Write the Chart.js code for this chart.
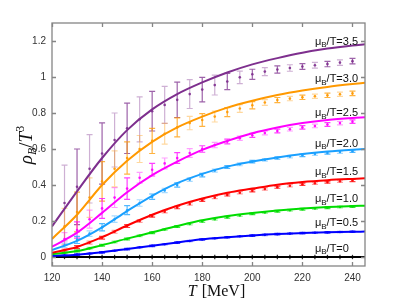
<!DOCTYPE html>
<html><head><meta charset="utf-8">
<script src="https://cdn.jsdelivr.net/npm/chart.js@4.4.1/dist/chart.umd.min.js"></script>
<style>html,body{margin:0;padding:0;background:#fff;}canvas{display:block;}</style>
</head><body>
<canvas id="c" width="403" height="303"></canvas>
<script>
// ---- data ----
const T_LINE = [120,130,140,150,160,170,180,190,200,210,220,230,240,245];
const T_DATA = [125,130,135,140,145,150,155,160,165,170,175,180,185,190,195,200,205,210,215,220,225,230,235,240];
const X_TICKS = [120,140,160,180,200,220,240];
const Y_TICKS = [0,0.2,0.4,0.6,0.8,1,1.2];
const Y_TICK_LABELS = ['0','0.2','0.4','0.6','0.8','1','1.2'];
const MU_LABELS = ['3.5','3.0','2.5','2.0','1.5','1.0','0.5','0'];

const line35 = [0.17,0.365,0.55,0.705,0.82,0.905,0.97,1.025,1.07,1.105,1.135,1.158,1.175,1.182];
const line30 = [0.10,0.235,0.40,0.535,0.64,0.72,0.78,0.83,0.868,0.90,0.925,0.945,0.961,0.968];
const line25 = [0.057,0.135,0.245,0.36,0.455,0.53,0.595,0.645,0.688,0.72,0.744,0.761,0.772,0.776];
const line20 = [0.039,0.09,0.165,0.255,0.34,0.41,0.462,0.502,0.53,0.553,0.572,0.586,0.596,0.60];
const line15 = [0.024,0.056,0.11,0.175,0.235,0.285,0.325,0.357,0.38,0.402,0.417,0.427,0.434,0.437];
const line10 = [0.015,0.033,0.066,0.102,0.137,0.172,0.204,0.228,0.245,0.259,0.27,0.278,0.283,0.285];
const line05 = [0.006,0.013,0.027,0.045,0.063,0.081,0.099,0.11,0.12,0.128,0.133,0.137,0.14,0.141];
const line00 = [0,0,0,0,0,0,0,0,0,0,0,0,0,0];

const data35 = [0.30,0.39,0.49,0.575,0.65,0.715,0.765,0.81,0.845,0.873,0.905,0.93,0.955,0.975,0.998,1.015,1.03,1.042,1.05,1.058,1.065,1.072,1.08,1.088];
const err35  = [0.21,0.21,0.19,0.17,0.15,0.14,0.125,0.11,0.103,0.098,0.08,0.068,0.055,0.045,0.035,0.028,0.022,0.02,0.018,0.016,0.016,0.015,0.015,0.015];
const data30 = [0.17,0.25,0.33,0.42,0.49,0.55,0.60,0.645,0.685,0.72,0.744,0.761,0.78,0.805,0.825,0.843,0.858,0.872,0.88,0.887,0.893,0.898,0.904,0.909];
const err30  = [0.10,0.11,0.11,0.11,0.10,0.09,0.075,0.07,0.058,0.053,0.037,0.035,0.03,0.025,0.022,0.02,0.016,0.014,0.012,0.012,0.012,0.012,0.012,0.012];
const data25 = [0.10,0.15,0.21,0.27,0.33,0.38,0.44,0.485,0.52,0.55,0.578,0.60,0.622,0.642,0.66,0.676,0.689,0.70,0.71,0.72,0.728,0.736,0.744,0.752];
const err25  = [0.035,0.045,0.05,0.055,0.055,0.06,0.03,0.035,0.03,0.03,0.024,0.018,0.015,0.013,0.012,0.011,0.01,0.01,0.01,0.01,0.01,0.01,0.01,0.01];
const data20 = [0.065,0.095,0.13,0.165,0.21,0.26,0.30,0.335,0.37,0.40,0.43,0.455,0.48,0.50,0.515,0.53,0.54,0.55,0.558,0.565,0.572,0.578,0.583,0.588];
const err20  = [0.012,0.02,0.015,0.02,0.018,0.025,0.018,0.015,0.012,0.012,0.01,0.01,0.008,0.008,0.008,0.007,0.007,0.007,0.007,0.007,0.007,0.007,0.007,0.007];
const data15 = [0.038,0.055,0.08,0.107,0.14,0.172,0.20,0.228,0.252,0.275,0.295,0.315,0.33,0.345,0.357,0.368,0.378,0.388,0.396,0.404,0.41,0.416,0.421,0.425];
const err15  = [0.006,0.008,0.008,0.008,0.008,0.008,0.008,0.007,0.007,0.007,0.007,0.006,0.006,0.006,0.006,0.006,0.006,0.006,0.006,0.006,0.006,0.006,0.006,0.006];
const data10 = [0.023,0.033,0.048,0.065,0.083,0.10,0.118,0.135,0.153,0.169,0.184,0.198,0.21,0.221,0.231,0.24,0.247,0.254,0.26,0.265,0.27,0.274,0.278,0.281];
const err10  = [0.005,0.005,0.005,0.005,0.005,0.005,0.005,0.005,0.005,0.005,0.005,0.005,0.005,0.005,0.005,0.005,0.005,0.005,0.005,0.005,0.005,0.005,0.005,0.005];
const data05 = [0.009,0.013,0.019,0.026,0.035,0.044,0.054,0.062,0.071,0.08,0.089,0.097,0.104,0.11,0.115,0.119,0.123,0.127,0.13,0.133,0.135,0.137,0.139,0.14];
const err05  = [0.004,0.004,0.004,0.004,0.004,0.004,0.004,0.004,0.004,0.004,0.004,0.004,0.004,0.004,0.004,0.004,0.004,0.004,0.004,0.004,0.004,0.004,0.004,0.004];
const data00 = [0,0,0,0,0,0,0,0,0,0,0,0,0,0,0,0,0,0,0,0,0,0,0,0];
const err00  = [0.012,0.012,0.012,0.012,0.012,0.012,0.012,0.012,0.012,0.012,0.012,0.012,0.012,0.012,0.012,0.012,0.012,0.012,0.012,0.012,0.012,0.012,0.012,0.012];

// ---- styling ----
const COLORS = [[126,47,142],[255,153,0],[255,0,255],[26,160,255],[255,0,0],[0,221,0],[0,0,255],[0,0,0]];
const LINES = [line35,line30,line25,line20,line15,line10,line05,line00];
const DATAS = [data35,data30,data25,data20,data15,data10,data05,data00];
const ERRS  = [err35,err30,err25,err20,err15,err10,err05,err00];
const LABEL_OFFSETS = [2.5,3.7,4.3,5.5,6,6.4,8.4,8.3];
const rgba = (c,a) => `rgba(${c[0]},${c[1]},${c[2]},${a})`;

const datasets = [];
LINES.forEach((ln, i) => {
  datasets.push({
    type:'line', label:'line'+i,
    data: T_LINE.map((t,k)=>({x:t,y:ln[k]})),
    borderColor: rgba(COLORS[i],1), borderWidth: 2,
    pointRadius: 0, cubicInterpolationMode:'monotone', fill:false, order: 0
  });
});
DATAS.forEach((d, i) => {
  datasets.push({
    type:'line', label:'pts'+i, showLine:false,
    data: T_DATA.map((t,k)=>({x:t,y:d[k]})),
    errors: ERRS[i], colorIdx: i,
    pointRadius: 1.3, pointBorderWidth:0,
    pointBackgroundColor: rgba(COLORS[i],0.9), order: 1
  });
});

const errorBarPlugin = {
  id:'errbars',
  beforeDatasetsDraw(chart){
    const {ctx, scales:{x,y}, chartArea:a} = chart;
    ctx.save();
    ctx.beginPath(); ctx.rect(a.left,a.top,a.right-a.left,a.bottom-a.top); ctx.clip();
    chart.data.datasets.forEach(ds => {
      if (!ds.errors) return;
      const c = COLORS[ds.colorIdx];
      ds.data.forEach((p,k) => {
        const e = ds.errors[k];
        const px = x.getPixelForValue(p.x);
        const y1 = y.getPixelForValue(p.y + e), y2 = y.getPixelForValue(p.y - e);
        const light = (k % 2 === 0);
        ctx.strokeStyle = rgba(c, ds.colorIdx===7 ? 0.8 : (light ? 0.38 : 0.75));
        ctx.lineWidth = 1.2;
        ctx.beginPath();
        ctx.moveTo(px,y1); ctx.lineTo(px,y2);
        if (ds.colorIdx !== 7) {
          ctx.moveTo(px-3,y1); ctx.lineTo(px+3,y1);
          ctx.moveTo(px-3,y2); ctx.lineTo(px+3,y2);
        }
        ctx.stroke();
      });
    });
    ctx.restore();
  }
};

const framePlugin = {
  id:'frame',
  afterDatasetsDraw(chart){
    const {ctx, scales:{x,y}, chartArea:a} = chart;
    ctx.save();
    ctx.strokeStyle = '#858585'; ctx.lineWidth = 1.3;
    ctx.strokeRect(a.left, a.top, a.right-a.left, a.bottom-a.top);
    ctx.beginPath();
    X_TICKS.forEach(t => {
      const px = Math.round(x.getPixelForValue(t))+0.5;
      ctx.moveTo(px,a.bottom); ctx.lineTo(px,a.bottom-4);
      ctx.moveTo(px,a.top); ctx.lineTo(px,a.top+4);
    });
    Y_TICKS.forEach(v => {
      const py = Math.round(y.getPixelForValue(v))+0.5;
      ctx.moveTo(a.left,py); ctx.lineTo(a.left+4,py);
      ctx.moveTo(a.right,py); ctx.lineTo(a.right-4,py);
    });
    ctx.stroke();
    ctx.restore();
  }
};

const labelPlugin = {
  id:'mulabels',
  afterDatasetsDraw(chart){
    const {ctx, scales:{x,y}} = chart;
    ctx.save();
    ctx.fillStyle = '#111';
    ctx.textBaseline = 'middle';
    MU_LABELS.forEach((m,i) => {
      const ln = LINES[i];
      const px = x.getPixelForValue(225);
      const py = y.getPixelForValue(ln[ln.length-1]) - LABEL_OFFSETS[i];
      let cx = px;
      ctx.font = '11px "Liberation Sans", Arial, sans-serif';
      ctx.fillText('\u03bc', cx, py); cx += ctx.measureText('\u03bc').width;
      ctx.font = '8px "Liberation Sans", Arial, sans-serif';
      ctx.fillText('B', cx, py+3.5); cx += ctx.measureText('B').width;
      ctx.font = '11px "Liberation Sans", Arial, sans-serif';
      ctx.fillText('/T=' + m, cx, py);
    });
    ctx.restore();
  }
};

const titlePlugin = {
  id:'titles',
  afterDraw(chart){
    const {ctx} = chart;
    ctx.save();
    ctx.fillStyle = '#111';
    ctx.textBaseline = 'alphabetic';
    // x title
    const big = '16px "Liberation Serif", "DejaVu Serif", serif';
    const bigI = 'italic 16px "Liberation Serif", "DejaVu Serif", serif';
    ctx.font = bigI; const wT = ctx.measureText('T').width;
    ctx.font = big; const wR = ctx.measureText(' [MeV]').width;
    let sx = 216 - (wT + wR)/2;
    ctx.font = bigI; ctx.fillText('T', sx, 296);
    ctx.font = big; ctx.fillText(' [MeV]', sx + wT + 1, 296);
    // y title (rotated)
    ctx.translate(32, 145);
    ctx.rotate(-Math.PI/2);
    const yI = 'italic 19px "Liberation Serif", "DejaVu Serif", serif';
    const yS = 'italic 12px "Liberation Serif", "DejaVu Serif", serif';
    const yU = '19px "Liberation Serif", "DejaVu Serif", serif';
    const yN = '12px "Liberation Serif", "DejaVu Serif", serif';
    const parts = [[yI,'\u03c1',0],[yS,'B',4],[yU,'/',0],[yI,'T',0],[yN,'3',-8]];
    let w = 0;
    parts.forEach(p => { ctx.font = p[0]; w += ctx.measureText(p[1]).width; });
    let cx = -w/2;
    parts.forEach(p => { ctx.font = p[0]; ctx.fillText(p[1], cx, p[2]); cx += ctx.measureText(p[1]).width; });
    ctx.restore();
  }
};

new Chart(document.getElementById('c'), {
  data: { datasets },
  options: {
    responsive:false, animation:false, devicePixelRatio:1,
    layout:{ padding:{ left:0, right:38, top:23, bottom:0 } },
    plugins:{ legend:{display:false}, tooltip:{enabled:false} },
    scales:{
      x:{ type:'linear', min:120, max:245,
          grid:{display:false, drawTicks:false}, border:{display:false},
          afterBuildTicks: s => { s.ticks = X_TICKS.map(v=>({value:v})); },
          afterFit: s => { s.height = 37; },
          ticks:{ padding:6, color:'#333', font:{family:'"Liberation Sans", Arial, sans-serif', size:10},
                  maxRotation:0, autoSkip:false, callback: v => String(v) } },
      y:{ type:'linear', min:-0.05, max:1.3,
          grid:{display:false, drawTicks:false}, border:{display:false},
          afterBuildTicks: s => { s.ticks = Y_TICKS.map(v=>({value:v})); },
          afterFit: s => { s.width = 52; },
          ticks:{ padding:6, color:'#333', font:{family:'"Liberation Sans", Arial, sans-serif', size:10},
                  autoSkip:false, callback: (v) => { const i = Y_TICKS.indexOf(v); return i>=0 ? Y_TICK_LABELS[i] : ''; } } }
    }
  },
  plugins:[errorBarPlugin, framePlugin, labelPlugin, titlePlugin]
});
</script>
</body></html>
